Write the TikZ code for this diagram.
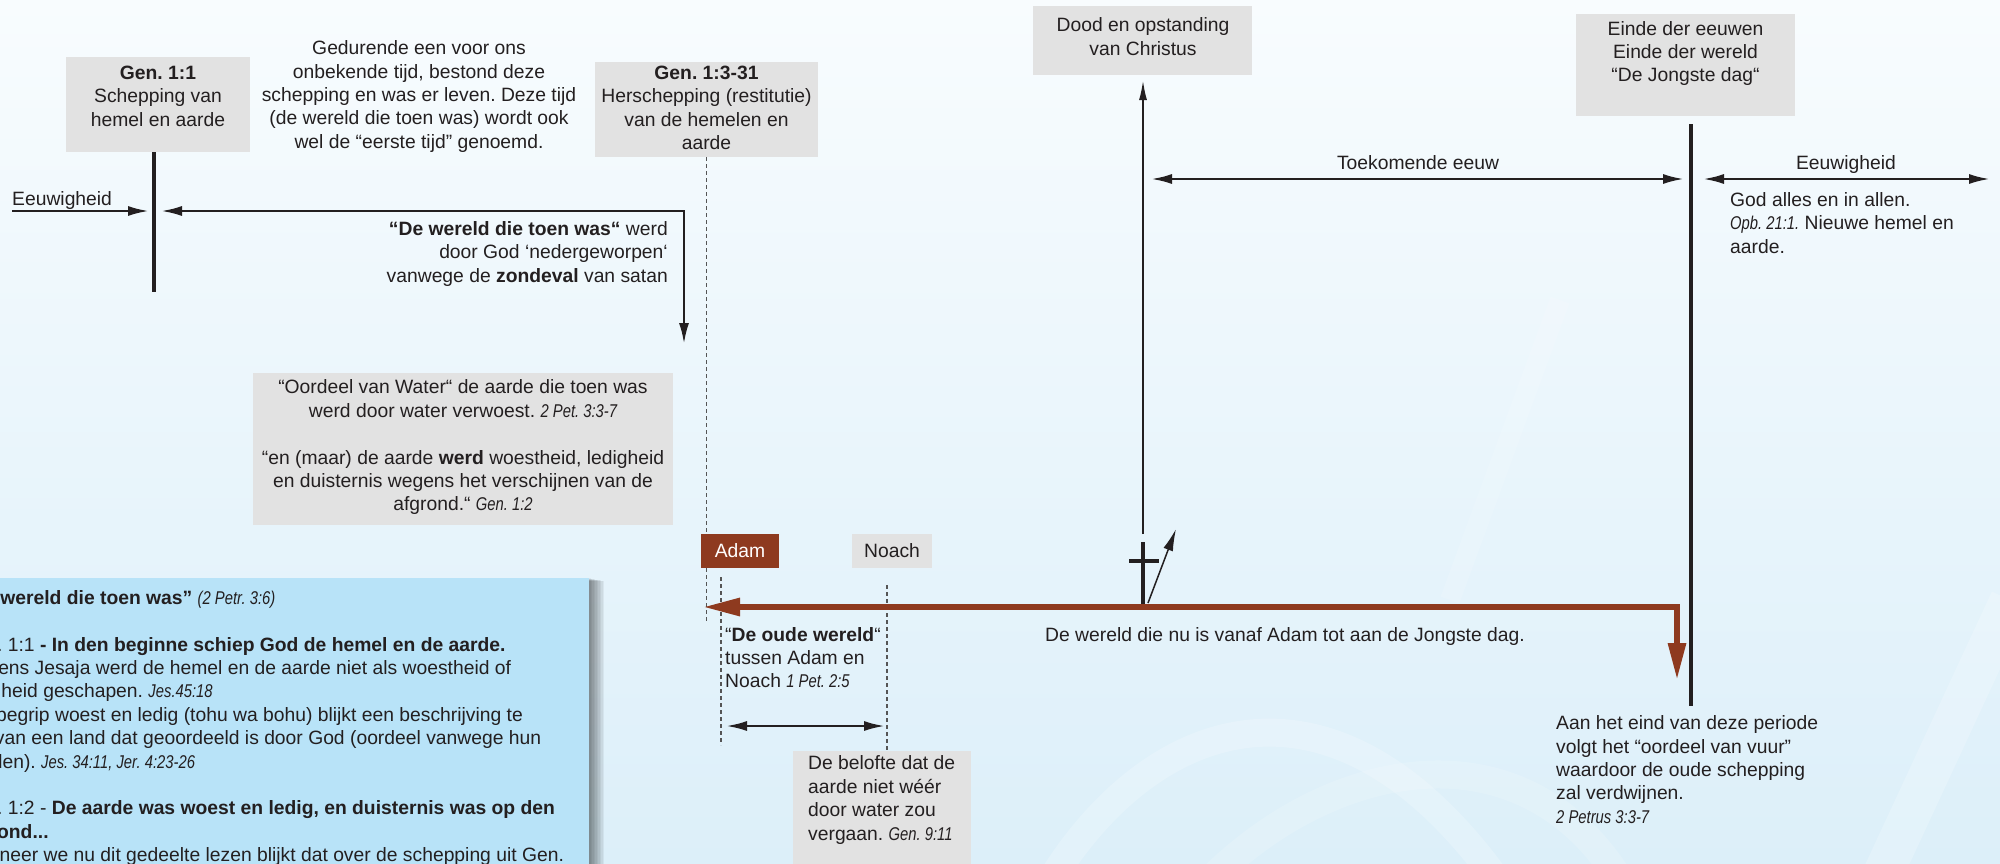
\documentclass[tikz,border=0pt]{standalone}
\usepackage{fontspec}
\setmainfont{Liberation Sans}
\newfontfamily\reffont[FakeStretch=0.8]{Liberation Sans}
\usetikzlibrary{arrows.meta}
\definecolor{ink}{HTML}{231F20}
\definecolor{boxgray}{HTML}{E2E2E2}
\definecolor{rust}{HTML}{8E3A1F}
\definecolor{skyblue}{HTML}{B8E3F8}
\definecolor{bgtop}{HTML}{F8FCFE}
\definecolor{bgbot}{HTML}{DCEFF9}
\definecolor{dashgray}{HTML}{555555}
\newcommand{\rf}[1]{{\reffont\itshape\fontsize{18.5}{23.4}\selectfont #1}}
\frenchspacing
\tikzset{
  graybox/.style={fill=boxgray, draw=none, inner sep=0pt},
  blk/.style={draw=ink, line width=2.5pt},
  heavy/.style={draw=ink, line width=4.5pt},
  dashline/.style={draw=dashgray, line width=1.3pt, dash pattern=on 4pt off 3pt},
  tipblk/.style={-{Latex[length=21pt,width=10pt]}},
  tipboth/.style={{Latex[length=21pt,width=10pt]}-{Latex[length=21pt,width=10pt]}},
  redarrow/.style={draw=rust, line width=6pt, line join=miter, {Triangle[length=37pt,width=17pt]}-{Triangle[length=37pt,width=17pt]}},
  swoosh/.style={draw=white, opacity=0.2, line width=28pt},
}
\begin{document}
\begin{tikzpicture}[x=1pt,y=-1pt,
  every node/.style={inner sep=0pt, text=ink, font=\fontsize{19.3}{23.4}\selectfont}]
\useasboundingbox (0,0) rectangle (2000,863);
\clip (0,0) rectangle (2000,863);
% background
\shade[top color=bgtop, bottom color=bgbot] (0,0) rectangle (2000,863);
\draw[swoosh] (1051,880) .. controls (1150,720) and (1330,650) .. (1497,880);
\draw[swoosh, opacity=0.15] (1210,880) .. controls (1330,760) and (1520,720) .. (1620,880);
\draw[swoosh, opacity=0.2, line width=40pt] (1880,880) -- (2010,600);
\draw[swoosh, opacity=0.12, line width=20pt] (1450,600) -- (1560,300);

% ---------- left part ----------
\node[graybox, minimum width=184pt, minimum height=95pt] (gen11) at (158,104.5) {};
\node[align=center] (gen11t) at (158,96) {\bfseries Gen. 1:1\\Schepping van\\hemel en aarde};
\coordinate (g11b) at (154,292);
\draw[heavy] (gen11.south -| g11b) -- (g11b);

\node[align=center] (gedur) at (419,96.5) {Gedurende een voor ons\\onbekende tijd, bestond deze\\schepping en was er leven. Deze tijd\\(de wereld die toen was) wordt ook\\wel de “eerste tijd” genoemd.};

\node[graybox, minimum width=223pt, minimum height=95pt] (gen13) at (706.5,109.5) {};
\node[align=center] (gen13t) at (706.5,108) {\bfseries Gen. 1:3-31\\Herschepping (restitutie)\\van de hemelen en\\aarde};

\node[anchor=mid west] (eeuwL) at (12,203) {Eeuwigheid};
\coordinate (eL0) at (12,211);
\coordinate (eL1) at (149,211);
\draw[blk, tipblk] (eL0) -- (eL1);

\coordinate (tw0) at (161,211);
\coordinate (twc) at (684,211);
\coordinate (tw1) at (684,344);
\draw[blk, tipboth] (tw0) -- (twc) -- (tw1);

\node[align=right, anchor=east] (toenwas) at (668,254) {{\bfseries “De wereld die toen was“} werd\\door God ‘nedergeworpen‘\\vanwege de {\bfseries zondeval} van satan};

\node[graybox, minimum width=420pt, minimum height=152pt] (oordeel) at (463,449) {};
\node[align=center] (oordeelt) at (463,447.5) {“Oordeel van Water“ de aarde die toen was\\werd door water verwoest. \rf{2 Pet. 3:3-7}\\[23.4pt]“en (maar) de aarde {\bfseries werd} woestheid, ledigheid\\en duisternis wegens het verschijnen van de\\afgrond.“ \rf{Gen. 1:2}};

% ---------- Adam / Noach ----------
\node[fill=rust, minimum width=78pt, minimum height=34pt, text=white] (adam) at (740,551) {Adam};
\node[graybox, minimum width=80pt, minimum height=34pt] (noach) at (892,551) {Noach};
\draw[dashline] (gen13.south) -- (gen13.south |- adam.north);
\coordinate (d1e) at (706.5,622);
\draw[dashline] (gen13.south |- adam.south) -- (d1e);
\coordinate (d2a) at (721,577);
\coordinate (d2b) at (721,745);
\draw[dashline] (d2a) -- (d2b);
\coordinate (d3a) at (887,585);
\coordinate (d3b) at (887,750);
\draw[dashline] (d3a) -- (d3b);

\node[align=left, anchor=west] (oude) at (725,657.5) {“{\bfseries De oude wereld}“\\tussen Adam en\\Noach \rf{1 Pet. 2:5}};
\coordinate (ow0) at (726,726);
\coordinate (ow1) at (885,726);
\draw[blk, tipboth] (ow0) -- (ow1);

\node[graybox, minimum width=178pt, minimum height=130pt] (belofte) at (882,816) {};
\node[align=left, anchor=west] (beloftet) at (808,800) {De belofte dat de\\aarde niet wéér\\door water zou\\vergaan. \rf{Gen. 9:11}};

% ---------- blue box ----------
\foreach \i in {1,...,10}{
  \fill[black, opacity=0.05] (-20,{578+0.3*\i}) rectangle ({589+1.5*\i},900);
}
\node[fill=skyblue, minimum width=609pt, minimum height=322pt] (blue) at (284.5,739) {};
\node[align=left, anchor=west] (bluet) at (-39.5,728) {{\bfseries “De wereld die toen was”} \rf{(2 Petr. 3:6)}\\[23.4pt]Gen. 1:1 {\bfseries - In den beginne schiep God de hemel en de aarde.}\\Volgens Jesaja werd de hemel en de aarde niet als woestheid of\\ledigheid geschapen. \rf{Jes.45:18}\\Het begrip woest en ledig (tohu wa bohu) blijkt een beschrijving te\\zijn van een land dat geoordeeld is door God (oordeel vanwege hun\\zonden). \rf{Jes. 34:11, Jer. 4:23-26}\\[23.4pt]Gen. 1:2 - {\bfseries De aarde was woest en ledig, en duisternis was op den}\\{\bfseries afgrond...}\\Wanneer we nu dit gedeelte lezen blijkt dat over de schepping uit Gen.};

% ---------- right part ----------
\node[graybox, minimum width=219pt, minimum height=69pt] (dood) at (1142.5,40.5) {};
\node[align=center] (doodt) at (1143,36.5) {Dood en opstanding\\van Christus};
\coordinate (cr0) at (1143,534);
\coordinate (cr1) at (1143,80);
\draw[draw=ink, line width=2pt, -{Latex[length=20pt,width=8pt]}] (cr0) -- (cr1);
\coordinate (crA) at (1143,542);
\coordinate (crB) at (1143,604);
\coordinate (crL) at (1129,561);
\coordinate (crR) at (1159,561);
\draw[draw=ink, line width=3.5pt] (crA) -- (crB);
\draw[draw=ink, line width=4pt] (crL) -- (crR);
\coordinate (sl0) at (1148,603);
\coordinate (sl1) at (1176,529);
\draw[draw=ink, line width=1.5pt, -{Latex[length=22pt,width=10pt]}] (sl0) -- (sl1);

\node[anchor=mid] (toek) at (1418,167) {Toekomende eeuw};
\coordinate (tk0) at (1151,179);
\coordinate (tk1) at (1684,179);
\draw[blk, tipboth] (tk0) -- (tk1);

\node[graybox, minimum width=219pt, minimum height=102pt] (einde) at (1685.5,65) {};
\node[align=center] (eindet) at (1685.5,53.5) {Einde der eeuwen\\Einde der wereld\\“De Jongste dag“};
\coordinate (ed0) at (1691,124);
\coordinate (ed1) at (1691,706);
\draw[heavy] (ed0) -- (ed1);

\node[anchor=mid] (eeuwR) at (1846,167) {Eeuwigheid};
\coordinate (er0) at (1703,179);
\coordinate (er1) at (1990,179);
\draw[blk, tipboth] (er0) -- (er1);

\node[align=left, anchor=west] (god) at (1730,223) {God alles en in allen.\\\rf{Opb. 21:1.} Nieuwe hemel en\\aarde.};

\coordinate (rL) at (703,607);
\coordinate (rC) at (1677,607);
\coordinate (rD) at (1677,680);
\draw[redarrow] (rL) -- (rC) -- (rD);

\node[anchor=mid west] (nuis) at (1045,639) {De wereld die nu is vanaf Adam tot aan de Jongste dag.};

\node[align=left, anchor=west] (eind) at (1556,769.5) {Aan het eind van deze periode\\volgt het “oordeel van vuur”\\waardoor de oude schepping\\zal verdwijnen.\\\rf{2 Petrus 3:3-7}};
\end{tikzpicture}
\end{document}
